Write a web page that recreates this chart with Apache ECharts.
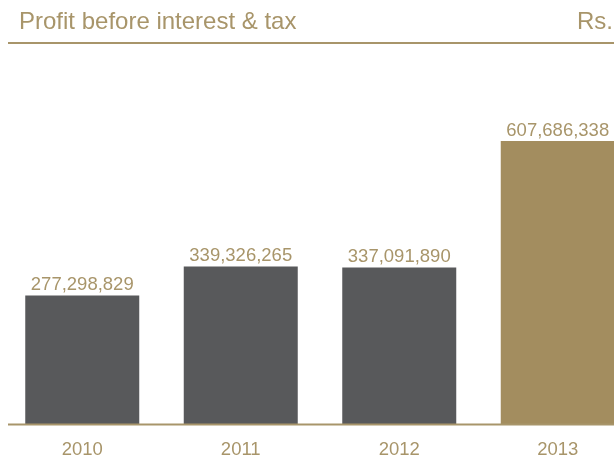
<!DOCTYPE html>
<html>
<head>
<meta charset="utf-8">
<script src="https://cdn.jsdelivr.net/npm/echarts@6/dist/echarts.min.js"></script>
<style>
  html, body { margin: 0; padding: 0; background: #ffffff; }
  #chart { width: 614px; height: 459px; }
</style>
</head>
<body>
<div id="chart"></div>
<script>
// Profit before interest & tax, by year (Rs.)
const years = ['2010', '2011', '2012', '2013'];
const profit = [277298829, 339326265, 337091890, 607686338];
const barColors = ['#58595b', '#58595b', '#58595b', '#a38d5f'];

const GOLD = '#a8956a';
const FONT = '"Liberation Sans", Arial, Helvetica, sans-serif';

const chart = echarts.init(document.getElementById('chart'));

chart.setOption({
  animation: false,
  backgroundColor: '#ffffff',
  title: [
    {
      text: 'Profit before interest & tax',
      left: 19, top: 10.5, padding: 0,
      textStyle: { color: GOLD, fontFamily: FONT, fontSize: 24, fontWeight: 'normal' }
    },
    {
      text: 'Rs.',
      right: 1, top: 10.5, padding: 0,
      textStyle: { color: GOLD, fontFamily: FONT, fontSize: 24, fontWeight: 'normal' }
    }
  ],
  graphic: [
    // rule under the heading and the baseline under the bars
    { type: 'line', shape: { x1: 8, y1: 43, x2: 614, y2: 43 }, style: { stroke: GOLD, lineWidth: 2 }, z: 10 },
    { type: 'line', shape: { x1: 8, y1: 424.5, x2: 614, y2: 424.5 }, style: { stroke: GOLD, lineWidth: 2 }, z: 10 }
  ],
  // the last band runs past the right edge of the page
  grid: { left: 3, right: -23, top: 97.9, bottom: 34, containLabel: false, outerBoundsMode: 'none' },
  xAxis: {
    type: 'category',
    data: years,
    axisLine: { show: false },
    axisTick: { show: false },
    axisLabel: { color: GOLD, fontFamily: FONT, fontSize: 18.5, margin: 15 }
  },
  yAxis: {
    type: 'value',
    min: 0,
    max: 700000000,
    show: false,
    splitLine: { show: false }
  },
  series: [{
    type: 'bar',
    data: profit.map((v, i) => ({ value: v, itemStyle: { color: barColors[i] } })),
    barWidth: 114,
    label: {
      show: true,
      position: 'top',
      distance: 1,
      color: GOLD,
      fontFamily: FONT,
      fontSize: 18.5,
      formatter: p => p.value.toLocaleString('en-US')
    }
  }]
});
</script>
</body>
</html>
